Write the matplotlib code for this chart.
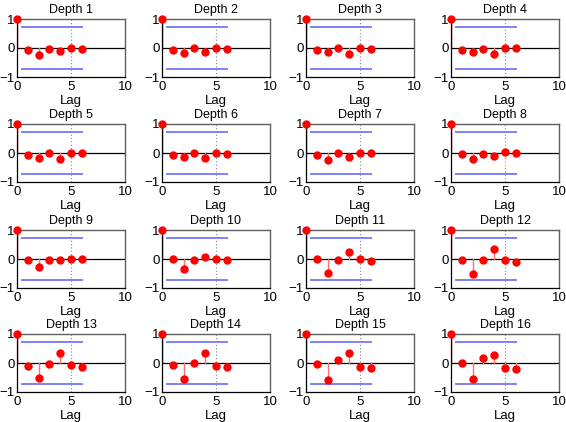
import matplotlib
matplotlib.use("Agg")
import matplotlib.pyplot as plt
import numpy as np

plt.rcParams['font.family'] = ['Liberation Sans', 'DejaVu Sans']

lags = [0, 1, 2, 3, 4, 5, 6]
titles = [f"Depth {i}" for i in range(1, 17)]
acf = [
    [1, -0.08, -0.23, -0.02, -0.09, 0.00, -0.02],
    [1, -0.08, -0.18, -0.01, -0.15, 0.01, -0.02],
    [1, -0.08, -0.15, 0.00, -0.19, 0.01, -0.02],
    [1, -0.07, -0.15, -0.02, -0.19, 0.01, -0.01],
    [1, -0.07, -0.16, -0.01, -0.19, 0.01, -0.01],
    [1, -0.07, -0.15, 0.00, -0.17, 0.00, -0.02],
    [1, -0.07, -0.23, 0.00, -0.14, 0.01, -0.01],
    [1, -0.05, -0.20, -0.03, -0.10, 0.02, 0.00],
    [1, -0.02, -0.26, -0.05, -0.05, 0.01, -0.01],
    [1, -0.01, -0.35, -0.03, 0.06, 0.00, -0.03],
    [1, -0.01, -0.49, -0.02, 0.23, -0.01, -0.08],
    [1, -0.05, -0.51, -0.02, 0.33, -0.03, -0.11],
    [1, -0.09, -0.50, -0.05, 0.34, -0.08, -0.14],
    [1, -0.08, -0.54, 0.01, 0.34, -0.10, -0.15],
    [1, -0.03, -0.58, 0.10, 0.33, -0.14, -0.18],
    [1, -0.01, -0.54, 0.16, 0.29, -0.18, -0.22],
]
conf_bound = 0.74
conf_x = [0.5, 6]

W, H = 566, 422
fig = plt.figure(figsize=(W / 100, H / 100), dpi=100)
lefts = [17, 162, 306, 451]
tops = [19, 124, 230, 334]
aw, ah = 108, 58

for i in range(16):
    r, c = divmod(i, 4)
    ax = fig.add_axes([lefts[c] / W, 1 - (tops[r] + ah) / H, aw / W, ah / H])
    vals = acf[i]
    ax.axhline(0, color='black', lw=0.9, zorder=1)
    ax.plot([5, 5], [-1, 1], color='#888888', lw=0.8, ls=(0, (1, 2)), zorder=1)
    ax.plot(conf_x, [conf_bound, conf_bound], color='#8080f8', lw=1.4, zorder=1)
    ax.plot(conf_x, [-conf_bound, -conf_bound], color='#8080f8', lw=1.4, zorder=1)
    for lag, v in zip(lags, vals):
        col = '#c00000' if lag == 0 else '#ff7070'
        ax.plot([lag, lag], [0, v], color=col, lw=1.0, zorder=2)
    ax.plot(lags, vals, 'o', color='#ff0000', ms=5, mec='#ff0000', zorder=3, clip_on=False)
    ax.set_xlim(0, 10)
    ax.set_ylim(-1, 1)
    ax.set_xticks([0, 5, 10])
    ax.set_yticks([-1, 0, 1])
    ax.set_yticklabels(['\u22121', '0', '1'])
    ax.tick_params(axis='x', length=0, labelsize=9.5, pad=3)
    ax.tick_params(axis='y', length=0, labelsize=9.5, pad=1.5)
    ax.set_title(titles[i], fontsize=9, pad=4)
    ax.set_xlabel('Lag', fontsize=9.5, labelpad=1.5)
    for s in ['left', 'bottom']:
        ax.spines[s].set_color('black')
        ax.spines[s].set_linewidth(0.9)
    for s in ['top', 'right']:
        ax.spines[s].set_color('#606060')
        ax.spines[s].set_linewidth(1.0)

fig.savefig('out.png', dpi=100)
